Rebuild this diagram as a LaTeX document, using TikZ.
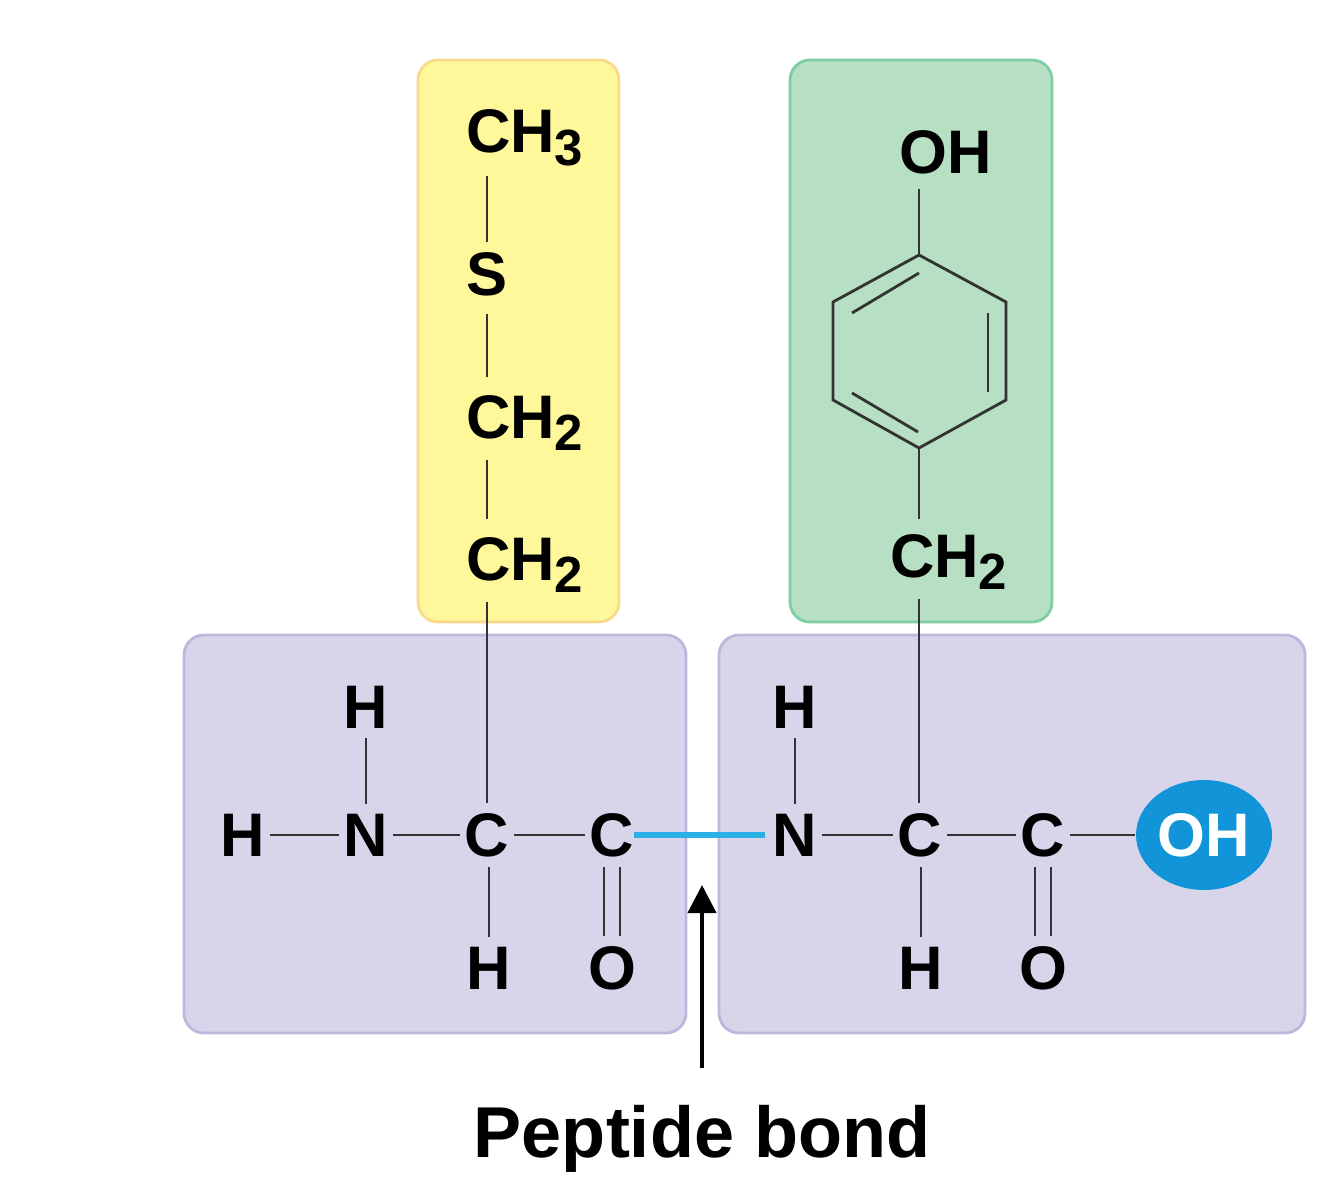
\documentclass[tikz,border=0pt]{standalone}
\usepackage{fontspec}
\setmainfont{Liberation Sans}
\usetikzlibrary{arrows.meta}
\usetikzlibrary{shapes.geometric}

\definecolor{sideyellow}{HTML}{FFF89B}
\definecolor{sideyellowline}{HTML}{F9D98C}
\definecolor{sidegreen}{HTML}{B7DFC3}
\definecolor{sidegreenline}{HTML}{7FCDA2}
\definecolor{backbone}{HTML}{D8D4EA}
\definecolor{backboneline}{HTML}{BDB7DC}
\definecolor{peptideblue}{HTML}{2BB0E6}
\definecolor{hydroxyl}{HTML}{1295D8}
\definecolor{bondgray}{HTML}{333333}

\newcommand{\chsub}[1]{\raisebox{-0.2em}{\fontsize{14.5}{16}\selectfont #1}}

\tikzset{
  atom/.style={font=\fontsize{17.5}{20}\selectfont\bfseries, inner sep=0pt, outer xsep=0.05cm, outer ysep=0.1cm},
  group/.style={anchor=base west},
  bond/.style={draw=bondgray, line width=0.8pt},
  panel/.style={rounded corners=0.2cm, line width=0.8pt}
}

\begin{document}
\begin{tikzpicture}
  \useasboundingbox (0,0) rectangle (13.29,12);

  \filldraw[panel, fill=sideyellow, draw=sideyellowline] (4.18,11.40) rectangle (6.19,5.78);
  \filldraw[panel, fill=sidegreen, draw=sidegreenline] (7.90,11.40) rectangle (10.52,5.78);
  \filldraw[panel, fill=backbone, draw=backboneline] (1.84,5.65) rectangle (6.86,1.67);
  \filldraw[panel, fill=backbone, draw=backboneline] (7.19,5.65) rectangle (13.05,1.67);

  % first residue
  \node[atom] (hl) at (2.43,3.65) {H};
  \node[atom] (na) at (3.66,3.65) {N};
  \node[atom] (hna) at (3.66,4.93) {H};
  \node[atom] (ca) at (4.87,3.65) {C};
  \node[atom] (ha) at (4.89,2.32) {H};
  \node[atom] (coa) at (6.12,3.65) {C};
  \node[atom] (oa) at (6.12,2.32) {O};

  % methionine side chain
  \node[atom, group] (cha) at (4.61,10.47) {CH\chsub{3}};
  \node[atom] (sa) at (4.87,9.26) {S};
  \node[atom, group] (chb) at (4.61,7.62) {CH\chsub{2}};
  \node[atom, group] (chc) at (4.61,6.20) {CH\chsub{2}};

  % second residue
  \node[atom] (nb) at (7.95,3.65) {N};
  \node[atom] (hnb) at (7.95,4.93) {H};
  \node[atom] (cb) at (9.20,3.65) {C};
  \node[atom] (hb) at (9.21,2.32) {H};
  \node[atom] (cob) at (10.43,3.65) {C};
  \node[atom] (ob) at (10.43,2.32) {O};
  \node[ellipse, fill=hydroxyl, text=white, minimum width=1.36cm, minimum height=1.10cm, inner sep=0pt, font=\fontsize{17.5}{20}\selectfont\bfseries] (ohb) at (12.04,3.65) {OH};

  % tyrosine side chain
  \node[atom] (oh) at (9.46,10.48) {OH};
  \node[atom, group] (chd) at (8.85,6.23) {CH\chsub{2}};
  \coordinate (ra) at (9.19,9.45);
  \coordinate (rb) at (10.06,8.98);
  \coordinate (rc) at (10.06,8.00);
  \coordinate (rd) at (9.19,7.52);
  \coordinate (re) at (8.33,8.00);
  \coordinate (rf) at (8.33,8.98);

  \draw[bond] (ra) -- (rb) -- (rc) -- (rd) -- (re) -- (rf) -- cycle;
  \draw[bond] (8.52,8.87) -- (9.19,9.27);
  \draw[bond] (9.88,8.87) -- (9.88,8.08);
  \draw[bond] (8.52,8.07) -- (9.18,7.68);
  \draw[bond, shorten >=0.05cm] (ra) -- (ra |- oh.south);
  \draw[bond, shorten >=0.05cm] (rd) -- (rd |- chd.north);
  \draw[bond] (rd |- chd.south) -- (rd |- cb.north);

  % bonds of the chain
  \draw[bond] (sa) -- (sa |- cha.south);
  \draw[bond, shorten <=0.08cm, shorten >=0.08cm] (sa) -- (sa |- chb.north);
  \draw[bond, shorten >=0.08cm] (sa |- chb.south) -- (sa |- chc.north);
  \draw[bond] (sa |- chc.south) -- (ca);

  \draw[bond] (hl) -- (na);
  \draw[bond] (hna) -- (na);
  \draw[bond] (na) -- (ca);
  \draw[bond] (ha |- ca.south) -- (ha);
  \draw[bond] (ca) -- (coa);
  \draw[bond] ([xshift=-0.08cm]coa.south) -- ([xshift=-0.08cm]oa.north);
  \draw[bond] ([xshift=0.08cm]coa.south) -- ([xshift=0.08cm]oa.north);

  \draw[line width=1.5pt, peptideblue, shorten <=-0.05cm, shorten >=0.03cm] (coa) -- (nb);

  \draw[bond] (hnb) -- (nb);
  \draw[bond] (nb) -- (cb);
  \draw[bond] (hb |- cb.south) -- (hb);
  \draw[bond] (cb) -- (cob);
  \draw[bond] ([xshift=-0.08cm]cob.south) -- ([xshift=-0.08cm]ob.north);
  \draw[bond] ([xshift=0.08cm]cob.south) -- ([xshift=0.08cm]ob.north);
  \draw[bond] (cob) -- (ohb);

  % label of the bond
  \node[font=\fontsize{20.5}{24}\selectfont\bfseries, inner sep=0pt] (label) at (7.02,0.61) {Peptide bond};
  \coordinate (tip) at (7.02,3.15);
  \draw[-{Triangle[width=8pt,length=8pt]}, line width=1.2pt] (7.02,1.32) -- (tip);
\end{tikzpicture}
\end{document}
